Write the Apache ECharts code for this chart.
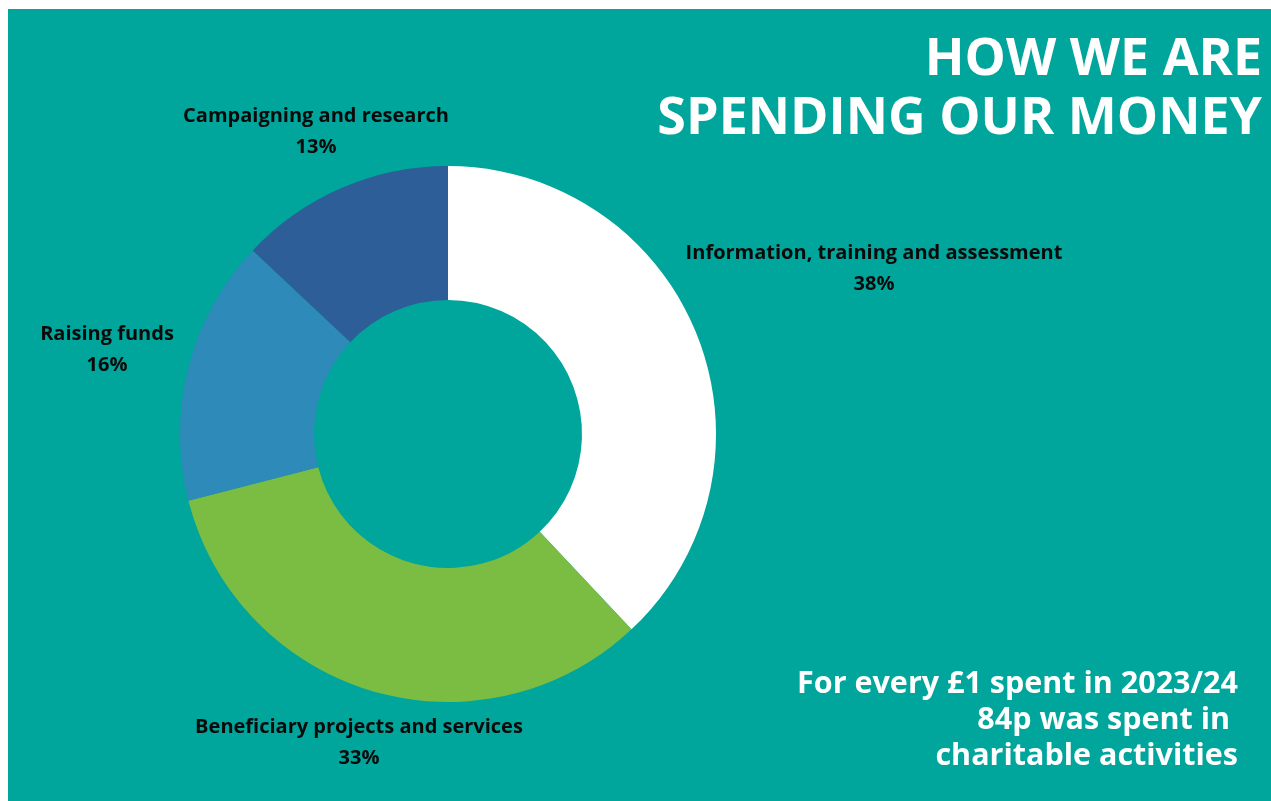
<!DOCTYPE html>
<html>
<head>
<meta charset="utf-8">
<script src="https://cdn.jsdelivr.net/npm/echarts@6/dist/echarts.min.js"></script>
<style>
  html, body { margin: 0; padding: 0; background: #ffffff; }
  #chart { position: absolute; left: 8px; top: 9px; width: 1263px; height: 792px; background: #00A59B; }
</style>
</head>
<body>
<div id="chart"></div>
<script>
// Spending breakdown, 2023/24 (percent of total spend)
const categories = [
  'Information, training and assessment',
  'Beneficiary projects and services',
  'Raising funds',
  'Campaigning and research'
];
const shares = [38, 33, 16, 13];
const sliceColors = ['#FFFFFF', '#7BBD43', '#2E8AB9', '#2D5E97'];

const titleLines = ['HOW WE ARE', 'SPENDING OUR MONEY'];
const noteLines = ['For every £1 spent in 2023/24', '84p was spent in ', 'charitable activities'];

// Where each slice's caption sits (centre of the two-line block)
const labelAnchors = [
  [866, 260],
  [351, 734],
  [99, 341],
  [308, 123]
];

const FONT = '"Open Sans", "Noto Sans", sans-serif';

const chart = echarts.init(document.getElementById('chart'), null, { renderer: 'canvas' });

const pieData = categories.map((name, i) => ({
  name,
  value: shares[i],
  itemStyle: { color: sliceColors[i] }
}));

// One right-aligned text element per line
function rightLines(lines, right, top, step, font) {
  return lines.map((t, i) => ({
    type: 'text',
    right: right,
    top: top + i * step,
    style: { text: t, fill: '#ffffff', font: font }
  }));
}

chart.setOption({
  animation: false,
  backgroundColor: 'transparent',
  graphic: [].concat(
    rightLines(titleLines, 9, 25, 59, 'bold 52px ' + FONT),
    rightLines(noteLines, 33, 660, 36, 'bold 30.5px ' + FONT)
  ),
  series: [{
    type: 'pie',
    center: [440, 425],
    radius: [134, 268],
    startAngle: 90,
    clockwise: true,
    silent: true,
    data: pieData,
    label: {
      show: true,
      position: 'outside',
      formatter: '{b}\n{c}%',
      color: '#0a0a0a',
      fontFamily: FONT,
      fontWeight: 'bold',
      fontSize: 20,
      lineHeight: 31,
      align: 'center',
      overflow: 'none'
    },
    labelLine: { show: false },
    labelLayout: function (params) {
      const a = labelAnchors[params.dataIndex];
      return { x: a[0], y: a[1], align: 'center', verticalAlign: 'middle', width: 500 };
    }
  }]
});
</script>
</body>
</html>
